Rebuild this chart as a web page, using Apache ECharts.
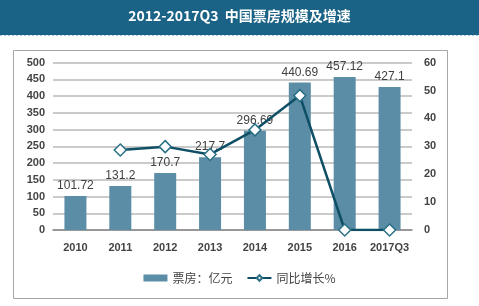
<!DOCTYPE html>
<html><head><meta charset="utf-8">
<script src="https://cdn.jsdelivr.net/npm/echarts@6/dist/echarts.min.js"></script>
<style>html,body{margin:0;padding:0;background:#fff}#c{width:479px;height:306px}</style>
</head><body><div id="c"></div>
<script>
var categories = ['2010','2011','2012','2013','2014','2015','2016','2017Q3'];
var boxOffice = [101.72, 131.2, 170.7, 217.7, 296.69, 440.69, 457.12, 427.1];
var growth = [null, 28.7, 29.9, 27.1, 35.9, 48.2, 0, 0];
var leftTicks = [0, 500, 50];
var rightTicks = [0, 60, 10];

var chart = echarts.init(document.getElementById('c'));
var font = 'Liberation Sans, Arial, sans-serif';
chart.setOption({
  animation: false,
  backgroundColor: '#fff',
  graphic: [
    {type:'rect', shape:{x:0,y:0,width:479,height:35}, style:{fill:'#1b6386'}, z:-1},
    {type:'line', shape:{x1:0,y1:35.5,x2:479,y2:35.5}, style:{stroke:'#9fc8e6', lineWidth:1, lineDash:[2,2]}},
    {type:'rect', shape:{x:13.5,y:50.5,width:434,height:248}, style:{fill:'none', stroke:'#a6a6a6', lineWidth:1}, z:-1},
    {type:'text', left:'center', top:9, style:{text:'2012-2017Q3  中国票房规模及增速', fill:'#fff', font:'bold 14px "Noto Sans CJK SC", Arial, sans-serif'}}
  ],
  grid: {left:53, right:67, top:62.7, bottom:76},
  legend: {
    bottom: 17, left: 'center', itemGap: 14, itemWidth: 24, itemHeight: 7,
    textStyle: {color:'#444', fontSize:12, fontFamily:'"Noto Sans CJK SC", sans-serif'},
    data: [{name:'票房：亿元', icon:'rect'}, {name:'同比增长%'}]
  },
  xAxis: {
    type:'category', data:categories,
    axisLine:{lineStyle:{color:'#888', width:1.5}}, axisTick:{show:false},
    axisLabel:{interval:0, color:'#444', fontSize:11, fontWeight:'bold', fontFamily:font, margin:12}
  },
  yAxis: [
    {type:'value', min:leftTicks[0], max:leftTicks[1], interval:leftTicks[2],
     axisLine:{show:false}, axisTick:{show:false},
     splitLine:{lineStyle:{color:'#b8b8b8', width:1.5}},
     axisLabel:{color:'#444', fontSize:11, fontWeight:'bold', fontFamily:font, margin:8}},
    {type:'value', min:rightTicks[0], max:rightTicks[1], interval:rightTicks[2],
     axisLine:{show:false}, axisTick:{show:false}, splitLine:{show:false},
     axisLabel:{color:'#444', fontSize:11, fontWeight:'bold', fontFamily:font, margin:12}}
  ],
  series: [
    {name:'票房：亿元', type:'bar', data:boxOffice, barWidth:22,
     itemStyle:{color:'#5b8ea6'},
     label:{show:true, position:'top', distance:4, color:'#404040', fontSize:12, fontFamily:font}},
    {name:'同比增长%', type:'line', yAxisIndex:1, data:growth,
     symbol:'diamond', symbolSize:12, connectNulls:false,
     lineStyle:{color:'#0e4f66', width:2.5},
     itemStyle:{color:'#fff', borderColor:'#2a6f86', borderWidth:1.5}}
  ]
});
</script></body></html>
